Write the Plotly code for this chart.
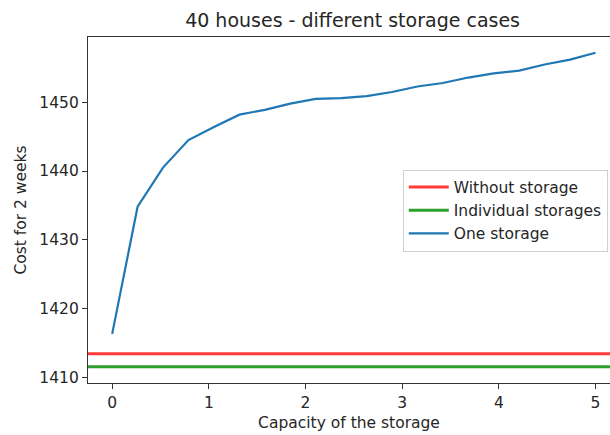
import plotly.graph_objects as go

# Storage capacity values and the resulting cost with one shared storage
capacity = [0.0, 0.263, 0.526, 0.789, 1.053, 1.316, 1.579, 1.842, 2.105, 2.368,
            2.632, 2.895, 3.158, 3.421, 3.684, 3.947, 4.211, 4.474, 4.737, 5.0]
one_storage = [1416.3, 1434.8, 1440.5, 1444.5, 1446.4, 1448.2, 1448.9, 1449.8,
               1450.5, 1450.6, 1450.9, 1451.5, 1452.3, 1452.8, 1453.6, 1454.2,
               1454.6, 1455.5, 1456.2, 1457.2]

# Reference costs (constant over capacity)
without_storage = 1413.4
individual_storages = 1411.5

x_ticks = [0, 1, 2, 3, 4, 5]
y_ticks = [1410, 1420, 1430, 1440, 1450]

RED = "#ff3b3b"
GREEN = "#2ca02c"
BLUE = "#1f77b4"
FONT = "DejaVu Sans"
TEXT = "#262626"
LABEL_SIZE = 15.5

fig = go.Figure()

# Horizontal reference lines spanning the whole axis width
for val, col in [(without_storage, RED), (individual_storages, GREEN)]:
    fig.add_shape(type="line", xref="paper", x0=0, x1=1, yref="y", y0=val, y1=val,
                  line=dict(color=col, width=3), layer="above")

# Legend entries for the reference lines
fig.add_trace(go.Scatter(x=[None], y=[None], mode="lines", name="Without storage",
                         line=dict(color=RED, width=3), legendgroup="a"))
fig.add_trace(go.Scatter(x=[None], y=[None], mode="lines", name="Individual storages",
                         line=dict(color=GREEN, width=3), legendgroup="b"))
fig.add_trace(go.Scatter(x=capacity, y=one_storage, mode="lines", name="One storage",
                         line=dict(color=BLUE, width=2.2), legendgroup="c"))

fig.update_layout(
    width=610, height=435,
    margin=dict(l=88, r=0, t=37, b=52),
    paper_bgcolor="white", plot_bgcolor="white",
    font=dict(family=FONT, size=LABEL_SIZE, color=TEXT),
    title=dict(text="40 houses - different storage cases", x=0.578, xanchor="center",
               y=0.953, yanchor="middle", font=dict(size=19, color=TEXT)),
    showlegend=True,
    legend=dict(x=0.603, y=0.617, xanchor="left", yanchor="top",
                bordercolor="#d0d0d0", borderwidth=1, bgcolor="rgba(255,255,255,0.8)",
                font=dict(size=LABEL_SIZE, color=TEXT), traceorder="grouped",
                tracegroupgap=0, itemwidth=40),
)

fig.update_xaxes(range=[-0.25, 5.15], tickvals=x_ticks, ticks="outside", ticklen=5,
                 tickcolor="#333", showline=True, linecolor="#333", linewidth=1.2,
                 mirror=True, showgrid=False, zeroline=False,
                 title=dict(text="Capacity of the storage", standoff=6,
                            font=dict(size=LABEL_SIZE, color=TEXT)),
                 tickfont=dict(size=LABEL_SIZE))
fig.update_yaxes(range=[1409.15, 1459.5], tickvals=y_ticks, ticks="outside", ticklen=5,
                 tickcolor="#333", showline=True, linecolor="#333", linewidth=1.2,
                 showgrid=False, zeroline=False,
                 title=dict(text="Cost for 2 weeks", standoff=8,
                            font=dict(size=LABEL_SIZE, color=TEXT)),
                 tickfont=dict(size=LABEL_SIZE))

fig.write_html("out.html")
